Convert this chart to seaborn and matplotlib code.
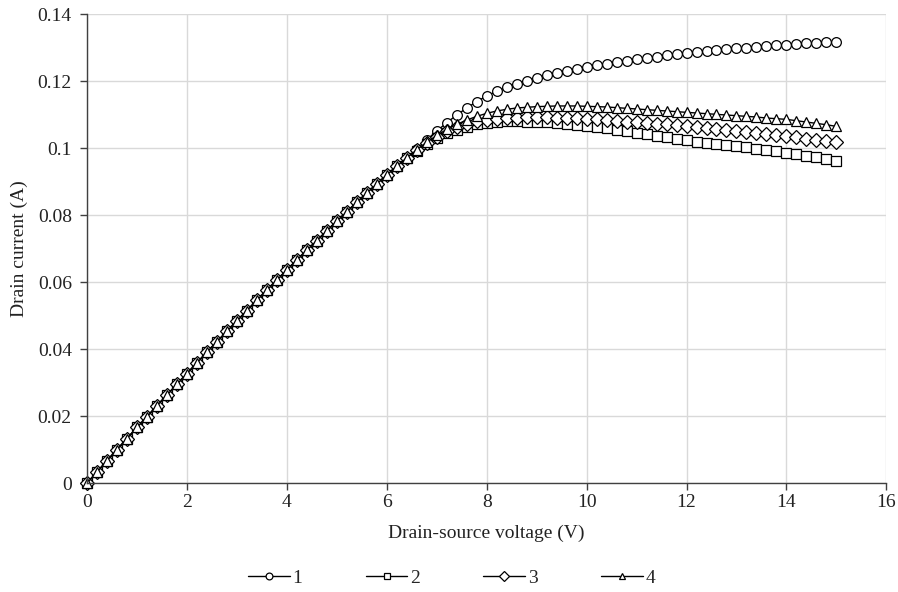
import matplotlib
matplotlib.use("Agg")
import matplotlib.pyplot as plt
import numpy as np
import pandas as pd
import seaborn as sns
from matplotlib.ticker import FuncFormatter, MultipleLocator

# voltage sweep: 0 V to 15 V in 0.2 V steps
VOLTAGE_STEP = 0.2
voltage = np.round(np.arange(0, 15 + VOLTAGE_STEP / 2, VOLTAGE_STEP), 1)

# linear region, all four curves lie on top of each other (0 .. 6.4 V)
common = [0.0, 0.0033, 0.0067, 0.0100, 0.0133, 0.0166, 0.0198, 0.0231, 0.0263,
          0.0295, 0.0327, 0.0359, 0.0391, 0.0422, 0.0453, 0.0484, 0.0515,
          0.0546, 0.0576, 0.0606, 0.0636, 0.0666, 0.0695, 0.0724, 0.0753,
          0.0782, 0.0810, 0.0838, 0.0866, 0.0893, 0.0920, 0.0946, 0.0971]

# saturation region, 6.6 .. 15 V
tail_1 = [0.0998, 0.1025, 0.1051, 0.1076, 0.1099, 0.1120, 0.1139, 0.1156,
          0.1170, 0.1182, 0.1193, 0.1202, 0.1210, 0.1217, 0.1224, 0.1230,
          0.1236, 0.1242, 0.1247, 0.1252, 0.1257, 0.1261, 0.1265, 0.1269,
          0.1273, 0.1277, 0.1280, 0.1284, 0.1287, 0.1290, 0.1293, 0.1295,
          0.1298, 0.1300, 0.1302, 0.1305, 0.1307, 0.1309, 0.1311, 0.1313,
          0.1315, 0.1316, 0.1318]
tail_2 = [0.0993, 0.1013, 0.1030, 0.1044, 0.1055, 0.1064, 0.1071, 0.1076,
          0.1079, 0.1080, 0.1080, 0.1079, 0.1078, 0.1077, 0.1075, 0.1073,
          0.1070, 0.1067, 0.1063, 0.1059, 0.1054, 0.1050, 0.1045, 0.1041,
          0.1036, 0.1032, 0.1027, 0.1023, 0.1019, 0.1016, 0.1012, 0.1009,
          0.1005, 0.1002, 0.0998, 0.0995, 0.0991, 0.0987, 0.0983, 0.0978,
          0.0973, 0.0968, 0.0963]
tail_3 = [0.0994, 0.1015, 0.1034, 0.1050, 0.1063, 0.1073, 0.1080, 0.1085,
          0.1088, 0.1090, 0.1091, 0.1092, 0.1092, 0.1092, 0.1091, 0.1090,
          0.1089, 0.1088, 0.1086, 0.1084, 0.1082, 0.1079, 0.1077, 0.1075,
          0.1073, 0.1071, 0.1068, 0.1066, 0.1063, 0.1060, 0.1057, 0.1054,
          0.1051, 0.1048, 0.1045, 0.1042, 0.1038, 0.1035, 0.1032, 0.1028,
          0.1024, 0.1021, 0.1017]
tail_4 = [0.0995, 0.1018, 0.1038, 0.1056, 0.1071, 0.1084, 0.1095, 0.1104,
          0.1111, 0.1116, 0.1120, 0.1122, 0.1124, 0.1125, 0.1126, 0.1126,
          0.1126, 0.1125, 0.1124, 0.1123, 0.1121, 0.1119, 0.1117, 0.1115,
          0.1113, 0.1111, 0.1109, 0.1107, 0.1105, 0.1103, 0.1101, 0.1099,
          0.1097, 0.1095, 0.1093, 0.1090, 0.1088, 0.1086, 0.1082, 0.1078,
          0.1074, 0.1070, 0.1065]

series_names = ["1", "2", "3", "4"]
series_values = [common + tail_1, common + tail_2, common + tail_3, common + tail_4]
series_markers = {"1": "o", "2": "s", "3": "D", "4": "^"}


def build_frame() -> pd.DataFrame:
    frames = []
    for name, values in zip(series_names, series_values):
        frames.append(pd.DataFrame({"voltage": voltage, "current": values, "curve": name}))
    return pd.concat(frames, ignore_index=True)


def main():
    df = build_frame()

    sns.set_theme(style="whitegrid")
    plt.rcParams["font.family"] = ["Liberation Serif", "DejaVu Serif"]

    fig = plt.figure(figsize=(8.98, 5.92), dpi=100)
    ax = fig.add_axes([0.097, 0.184, 0.890, 0.792])

    sns.lineplot(data=df, x="voltage", y="current", style="curve",
                 markers=series_markers, dashes=False, color="black",
                 linewidth=1.0, markersize=7, markerfacecolor="white",
                 markeredgecolor="black", mew=0.9, legend=False, ax=ax,
                 clip_on=False)

    ax.set_xlim(0, 16)
    ax.set_ylim(0, 0.14)
    ax.xaxis.set_major_locator(MultipleLocator(2))
    ax.yaxis.set_major_locator(MultipleLocator(0.02))
    ax.yaxis.set_major_formatter(FuncFormatter(lambda v, p: f"{v:g}"))

    ax.grid(True, color="#d9d9d9", linewidth=1.0)
    ax.set_axisbelow(True)
    for side in ["top", "right"]:
        ax.spines[side].set_visible(False)
    for side in ["left", "bottom"]:
        ax.spines[side].set_color("#404040")
        ax.spines[side].set_linewidth(1.0)
    ax.tick_params(axis="both", which="major", direction="out", length=5,
                   width=1.0, color="#404040", labelsize=14, labelcolor="#222222")
    ax.tick_params(axis="y", pad=6)
    ax.tick_params(axis="x", pad=3)
    ax.tick_params(left=True, bottom=True)

    ax.set_xlabel("Drain-source voltage (V)", fontsize=14, color="#222222", labelpad=10)
    ax.set_ylabel("Drain current (A)", fontsize=14, color="#222222", labelpad=7)

    fig.legend(handles=ax.lines[:4], labels=series_names, loc="center",
               bbox_to_anchor=(0.503, 0.024), ncol=4, frameon=False, fontsize=14,
               handlelength=2.15, handletextpad=0.15, columnspacing=3.25,
               markerscale=0.7)

    fig.savefig("out.png", dpi=100, facecolor="white")


if __name__ == "__main__":
    main()
